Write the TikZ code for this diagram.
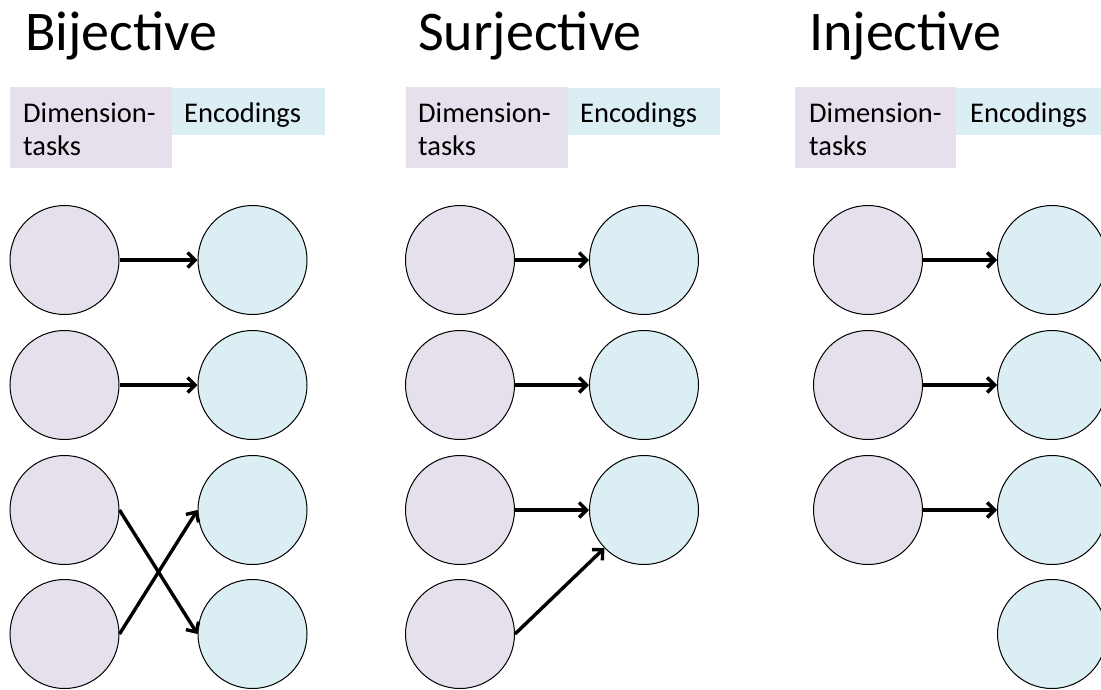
\documentclass[tikz,border=0pt]{standalone}
\usepackage{fontspec}
\setmainfont{Carlito}
\usetikzlibrary{arrows.meta}
\definecolor{dimfill}{HTML}{E6E0EC}
\definecolor{encfill}{HTML}{DBEEF4}
\tikzset{
  title/.style={anchor=base west, inner sep=0pt, font=\fontsize{56}{62}\selectfont},
  lbl/.style={anchor=base west, inner sep=0pt, font=\fontsize{28.5}{33}\selectfont},
  dimbox/.style={fill=dimfill, draw=none, inner sep=0pt, anchor=north west},
  encbox/.style={fill=encfill, draw=none, inner sep=0pt, anchor=north west},
  dimdot/.style={circle, draw=black, line width=1pt, fill=dimfill, minimum size=109pt, inner sep=0pt},
  encdot/.style={circle, draw=black, line width=1pt, fill=encfill, minimum size=109pt, inner sep=0pt},
  mapto/.style={line width=3.4pt, -{Straight Barb[length=7.5pt,width=15pt]}}
}
\begin{document}
\begin{tikzpicture}[x=1pt,y=-1pt]
\clip (0,0) rectangle (1101,689);
\fill[white] (0,0) rectangle (1101,689);

% ---- headers ----
\node[title] (tB) at (25,50) {Bijective};
\node[title] (tS) at (418,50) {Surjective};
\node[title] (tI) at (809,50) {Injective};

% legend boxes
\node[dimbox, minimum width=162pt, minimum height=81pt] (dB) at (10,87) {};
\node[encbox, minimum width=153pt, minimum height=47pt] (eB) at (172,88) {};
\node[dimbox, minimum width=162pt, minimum height=81pt] (dS) at (406,87) {};
\node[encbox, minimum width=152pt, minimum height=47pt] (eS) at (568,88) {};
\node[dimbox, minimum width=161pt, minimum height=81pt] (dI) at (795,87) {};
\node[encbox, minimum width=150pt, minimum height=47pt] (eI) at (956,88) {};

\node[lbl] (dB1) at (23,122) {Dimension-};
\node[lbl] (dB2) at (23,155) {tasks};
\node[lbl] (eB1) at (184,122) {Encodings};
\node[lbl] (dS1) at (418,122) {Dimension-};
\node[lbl] (dS2) at (418,155) {tasks};
\node[lbl] (eS1) at (580,122) {Encodings};
\node[lbl] (dI1) at (809,122) {Dimension-};
\node[lbl] (dI2) at (809,155) {tasks};
\node[lbl] (eI1) at (970,122) {Encodings};

% ---- bijective ----
\foreach \r/\y in {1/260,2/385,3/510,4/634}{
  \node[dimdot] (bl\r) at (64.5,\y) {};
  \node[encdot] (br\r) at (252.5,\y) {};
}
\draw[mapto] (bl1.east) -- (br1.west);
\draw[mapto] (bl2.east) -- (br2.west);
\draw[mapto] (bl3.east) -- (br4.west);
\draw[mapto] (bl4.east) -- (br3.west);

% ---- surjective ----
\foreach \r/\y in {1/260,2/385,3/510,4/634}{
  \node[dimdot] (sl\r) at (460,\y) {};
}
\foreach \r/\y in {1/260,2/385,3/510}{
  \node[encdot] (sr\r) at (644,\y) {};
}
\draw[mapto] (sl1.east) -- (sr1.west);
\draw[mapto] (sl2.east) -- (sr2.west);
\draw[mapto] (sl3.east) -- (sr3.west);
\draw[mapto] (sl4.east) -- (sr3);

% ---- injective ----
\foreach \r/\y in {1/260,2/385,3/510}{
  \node[dimdot] (il\r) at (868,\y) {};
}
\foreach \r/\y in {1/260,2/385,3/510,4/634}{
  \node[encdot] (ir\r) at (1052,\y) {};
}
\draw[mapto] (il1.east) -- (ir1.west);
\draw[mapto] (il2.east) -- (ir2.west);
\draw[mapto] (il3.east) -- (ir3.west);
\end{tikzpicture}
\end{document}
